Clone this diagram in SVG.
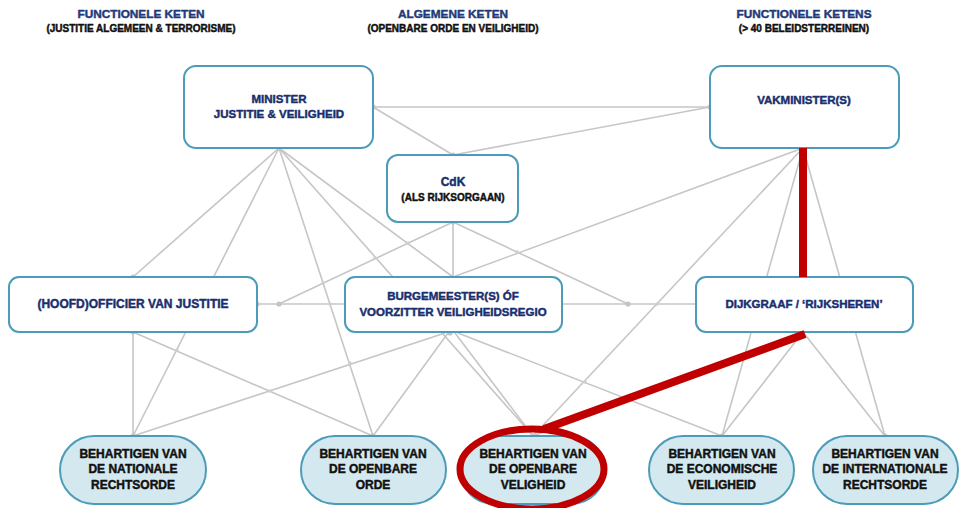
<svg xmlns="http://www.w3.org/2000/svg" width="961" height="508" viewBox="0 0 961 508">
<style>
.bg{fill:#ffffff}
.t{font-family:"Liberation Sans",Arial,sans-serif;font-weight:bold;text-anchor:middle;stroke-width:0.45px;stroke-linejoin:round}
.title{font-size:11.8px;fill:#1f3a7a;stroke:#1f3a7a}
.sub{font-size:10px;fill:#111111;stroke:#111111}
.nt{font-size:11.5px;fill:#1a2f6e;stroke:#1a2f6e}
.ns{font-size:10px;fill:#111111;stroke:#111111}
.pt{font-size:12px;fill:#111111;stroke:#111111}
.box{fill:#ffffff;stroke:#4b9cb8;stroke-width:2}
.pill{fill:#d3e9ef;stroke:#4b9cb8;stroke-width:2}
.c line{stroke:#c6c6c6;stroke-width:1.6;fill:none}
.d{fill:#c4c4c4}
.x{fill:#cfcfcf}
.red{stroke:#c00000;fill:none}
</style>
<rect class="bg" x="0" y="0" width="961" height="508"/>
<g id="titles">
<text class="t title" x="141" y="18">FUNCTIONELE KETEN</text>
<text class="t sub" x="141" y="32">(JUSTITIE ALGEMEEN &amp; TERRORISME)</text>
<text class="t title" x="453" y="18">ALGEMENE KETEN</text>
<text class="t sub" x="453" y="32">(OPENBARE ORDE EN VEILIGHEID)</text>
<text class="t title" x="804" y="18">FUNCTIONELE KETENS</text>
<text class="t sub" x="804" y="32">(&gt; 40 BELEIDSTERREINEN)</text>
</g>
<g id="connectors" class="c">
<line x1="373" y1="107" x2="710" y2="107"/>
<line x1="373" y1="107" x2="453" y2="155"/>
<line x1="710" y1="107" x2="453" y2="155"/>
<line x1="279" y1="148" x2="133" y2="277"/>
<line x1="279" y1="148" x2="133" y2="436"/>
<line x1="279" y1="148" x2="373" y2="436"/>
<line x1="279" y1="148" x2="533" y2="436"/>
<line x1="279" y1="148" x2="453" y2="277"/>
<line x1="453" y1="222" x2="453" y2="277"/>
<line x1="453" y1="222" x2="279" y2="304"/>
<line x1="453" y1="222" x2="628" y2="304"/>
<line x1="803" y1="148" x2="453" y2="277"/>
<line x1="803" y1="148" x2="533" y2="436"/>
<line x1="803" y1="148" x2="722" y2="436"/>
<line x1="803" y1="148" x2="885" y2="436"/>
<line x1="257" y1="304" x2="345" y2="304"/>
<line x1="562" y1="304" x2="696" y2="304"/>
<line x1="133" y1="332" x2="133" y2="436"/>
<line x1="133" y1="332" x2="373" y2="436"/>
<line x1="445" y1="333" x2="133" y2="436"/>
<line x1="448" y1="333" x2="373" y2="436"/>
<line x1="455" y1="333" x2="533" y2="436"/>
<line x1="458" y1="333" x2="722" y2="436"/>
<line x1="803" y1="332" x2="722" y2="436"/>
<line x1="803" y1="332" x2="885" y2="436"/>
<line x1="803" y1="332" x2="533" y2="436"/>
<g id="dots">
<circle class="d" cx="373" cy="107" r="2.6"/>
<circle class="d" cx="710" cy="107" r="2.6"/>
<circle class="d" cx="453" cy="155" r="2.6"/>
<circle class="d" cx="279" cy="148" r="2.6"/>
<circle class="d" cx="453" cy="222" r="2.6"/>
<circle class="d" cx="133" cy="277" r="2.6"/>
<circle class="d" cx="257" cy="304" r="2.6"/>
<circle class="d" cx="279" cy="304" r="2.6"/>
<circle class="d" cx="133" cy="332" r="2.6"/>
<circle class="d" cx="628" cy="304" r="2.6"/>
<circle class="d" cx="450" cy="333" r="2.6"/>
<circle class="d" cx="133" cy="436" r="2.6"/>
<circle class="d" cx="373" cy="436" r="2.6"/>
<circle class="d" cx="533" cy="436" r="2.6"/>
<circle class="d" cx="722" cy="436" r="2.6"/>
<circle class="d" cx="885" cy="436" r="2.6"/>
<circle class="x" cx="323" cy="283" r="1.8"/>
<circle class="x" cx="375" cy="258" r="1.8"/>
<circle class="x" cx="408" cy="243" r="1.8"/>
<circle class="x" cx="330" cy="304" r="1.8"/>
<circle class="x" cx="177" cy="350" r="1.8"/>
<circle class="x" cx="270" cy="391" r="1.8"/>
<circle class="x" cx="350" cy="363" r="1.8"/>
<circle class="x" cx="517" cy="252" r="1.8"/>
<circle class="x" cx="657" cy="304" r="1.8"/>
<circle class="x" cx="585" cy="382" r="1.8"/>
</g>
</g>
<g id="node-minister">
<rect class="box" x="184" y="66" width="189" height="82" rx="12"/>
<text class="t nt" x="279" y="103">MINISTER</text>
<text class="t nt" x="279" y="118">JUSTITIE &amp; VEILIGHEID</text>
</g>
<g id="node-vakminister">
<rect class="box" x="710" y="66" width="189" height="82" rx="12"/>
<text class="t nt" x="804" y="104">VAKMINISTER(S)</text>
</g>
<g id="node-cdk">
<rect class="box" x="387" y="155" width="131" height="67" rx="11"/>
<text class="t nt" x="453" y="186" style="font-size:12px">CdK</text>
<text class="t ns" x="453" y="201">(ALS RIJKSORGAAN)</text>
</g>
<g id="node-officier">
<rect class="box" x="9" y="277" width="248" height="55" rx="10"/>
<text class="t nt" x="133" y="308" style="font-size:12px">(HOOFD)OFFICIER VAN JUSTITIE</text>
</g>
<g id="node-burgemeester">
<rect class="box" x="345" y="277" width="217" height="55" rx="10"/>
<text class="t nt" x="453" y="300">BURGEMEESTER(S) ÓF</text>
<text class="t nt" x="453" y="316">VOORZITTER VEILIGHEIDSREGIO</text>
</g>
<g id="node-dijkgraaf">
<rect class="box" x="696" y="277" width="217" height="55" rx="10"/>
<text class="t nt" x="804" y="308">DIJKGRAAF / ‘RIJKSHEREN’</text>
</g>
<g id="node-nationale">
<rect class="pill" x="60" y="436" width="146" height="68" rx="34"/>
<text class="t pt" x="133" y="458">BEHARTIGEN VAN</text>
<text class="t pt" x="133" y="473">DE NATIONALE</text>
<text class="t pt" x="133" y="489">RECHTSORDE</text>
</g>
<g id="node-openbare-orde">
<rect class="pill" x="301" y="436" width="145" height="68" rx="34"/>
<text class="t pt" x="373" y="458">BEHARTIGEN VAN</text>
<text class="t pt" x="373" y="473">DE OPENBARE</text>
<text class="t pt" x="373" y="489">ORDE</text>
</g>
<g id="node-openbare-veiligheid">
<rect class="pill" x="460" y="436" width="145" height="68" rx="34"/>
<text class="t pt" x="533" y="458">BEHARTIGEN VAN</text>
<text class="t pt" x="533" y="473">DE OPENBARE</text>
<text class="t pt" x="533" y="489">VELIGHEID</text>
</g>
<g id="node-economische">
<rect class="pill" x="649" y="436" width="145" height="68" rx="34"/>
<text class="t pt" x="722" y="458">BEHARTIGEN VAN</text>
<text class="t pt" x="722" y="473">DE ECONOMISCHE</text>
<text class="t pt" x="722" y="489">VEILIGHEID</text>
</g>
<g id="node-internationale">
<rect class="pill" x="813" y="436" width="145" height="68" rx="34"/>
<text class="t pt" x="885" y="458">BEHARTIGEN VAN</text>
<text class="t pt" x="885" y="473">DE INTERNATIONALE</text>
<text class="t pt" x="885" y="489">RECHTSORDE</text>
</g>
<g id="highlight">
<line class="red" x1="803" y1="148" x2="803" y2="277" stroke-width="8"/>
<line class="red" x1="805" y1="334" x2="544" y2="429" stroke-width="8"/>
<ellipse class="red" cx="532" cy="469" rx="72" ry="40" stroke-width="7"/>
</g>
</svg>
